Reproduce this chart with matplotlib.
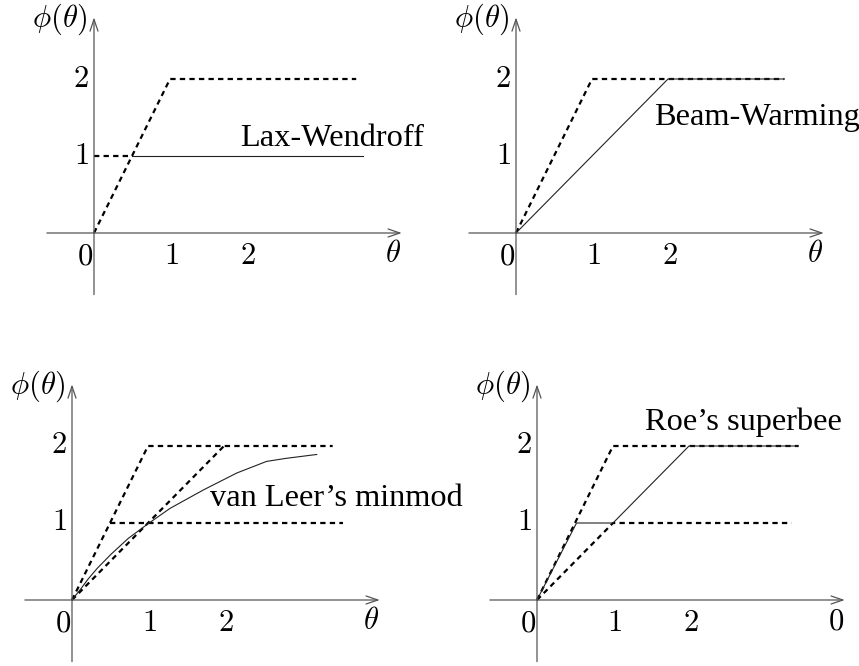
"""
Flux-limiter functions phi(theta) for four high-resolution schemes,
drawn with the TVD bounds as dashed lines.
"""

import matplotlib
matplotlib.use("Agg")
import matplotlib.pyplot as plt

plt.rcParams['mathtext.fontset'] = 'cm'
plt.rcParams['font.family'] = ['Liberation Serif', 'DejaVu Serif']

# ---- data ----
theta_ticks = [0, 1, 2]
phi_ticks = [1, 2]
titles = ["Lax-Wendroff", "Beam-Warming", "van Leer\u2019s minmod", "Roe\u2019s superbee"]
last_x_labels = [r"$\theta$", r"$\theta$", r"$\theta$", r"$0$"]

# TVD upper bound: phi = min(2 theta, 2)
upper_x = [[0, 1, 3.45], [0, 1, 3.53], [0, 1, 3.43], [0, 1, 3.44]]
upper_y = [0, 2, 2]

# Lax-Wendroff panel
lw_dash_x = [0, 0.5]
lw_dash_y = [1, 1]
lw_x = [0.5, 3.54]
lw_y = [1, 1]

# Beam-Warming panel
bw_x = [0, 2, 3.53]
bw_y = [0, 2, 2]

# van Leer panel
vl_diag_x = [0, 2]
vl_diag_y = [0, 2]
vl_flat_x = [0.5, 3.57]
vl_flat_y = [1, 1]
vl_x = [0, 0.12, 0.21, 0.34, 0.52, 0.74, 1.0, 1.29, 1.73, 2.17, 2.56, 2.82, 3.22]
vl_y = [0, 0.15, 0.27, 0.42, 0.6, 0.8, 0.99, 1.19, 1.43, 1.65, 1.8, 1.84, 1.89]

# superbee panel
sb_lower_x = [0, 1, 3.35]
sb_lower_y = [0, 1, 1]
sb_x = [0, 0.52, 1, 2, 3.44]
sb_y = [0, 1, 1, 2, 2]

# ---- layout ----
W, H = 859, 666
fig = plt.figure(figsize=(W / 100, H / 100), dpi=100)

SX, SY = 76.0, 77.0          # pixels per unit
X0, X1, Y0, Y1 = -1.3, 4.6, -1.0, 3.1
origins = [(94, 233), (516, 233), (72, 600), (537, 600)]

DASH = dict(color='black', lw=1.6, linestyle=(0, (2.4, 1.9)), solid_capstyle='butt')
SOLID = dict(color='#222222', lw=0.8)
AXIS = '#555555'
NUM = 22
LABEL = 23.3


def make_axes(ox, oy):
    left = ox + X0 * SX
    top = oy - Y1 * SY
    w = (X1 - X0) * SX
    h = (Y1 - Y0) * SY
    ax = fig.add_axes([left / W, 1 - (top + h) / H, w / W, h / H])
    ax.set_xlim(X0, X1)
    ax.set_ylim(Y0, Y1)
    ax.axis('off')
    return ax


def draw_frame(ax, last_label):
    arrow = dict(arrowstyle='->,head_length=0.5,head_width=0.17', lw=0.9,
                 color=AXIS, shrinkA=0, shrinkB=0, mutation_scale=17)
    ax.annotate('', xy=(4.05, 0), xytext=(-0.62, 0), arrowprops=arrow)
    ax.annotate('', xy=(0, 2.8), xytext=(0, -0.8), arrowprops=arrow)
    for t in theta_ticks:
        dx = -0.12 if t == 0 else 0.02
        ax.text(t + dx, -0.31, f"${t}$", fontsize=NUM, ha='center', va='center')
    for p in phi_ticks:
        ax.text(-0.17, p, f"${p}$", fontsize=NUM, ha='center', va='center')
    ax.text(3.93, -0.28, last_label, fontsize=NUM, ha='center', va='center')
    ax.text(-0.45, 2.77, r"$\phi(\theta)$", fontsize=NUM, ha='center', va='center')


axes = [make_axes(ox, oy) for ox, oy in origins]
for ax, lab, ux in zip(axes, last_x_labels, upper_x):
    draw_frame(ax, lab)
    ax.plot(ux, upper_y, **DASH, clip_on=False)

# Lax-Wendroff
ax = axes[0]
ax.plot(lw_dash_x, lw_dash_y, **DASH)
ax.plot(lw_x, lw_y, **SOLID)
ax.text(1.92, 1.23, titles[0], fontsize=LABEL, ha='left', va='center')

# Beam-Warming
ax = axes[1]
ax.plot(bw_x, bw_y, **SOLID)
ax.text(1.82, 1.5, titles[1], fontsize=LABEL, ha='left', va='center')

# van Leer
ax = axes[2]
ax.plot(vl_diag_x, vl_diag_y, **DASH)
ax.plot(vl_flat_x, vl_flat_y, **DASH)
ax.plot(vl_x, vl_y, **SOLID)
ax.text(1.82, 1.32, titles[2], fontsize=LABEL, ha='left', va='center', clip_on=False)

# superbee
ax = axes[3]
ax.plot(sb_lower_x, sb_lower_y, **DASH)
ax.plot(sb_x, sb_y, **SOLID)
ax.text(1.42, 2.31, titles[3], fontsize=LABEL, ha='left', va='center')

fig.savefig("out.png", dpi=100, facecolor='white')
